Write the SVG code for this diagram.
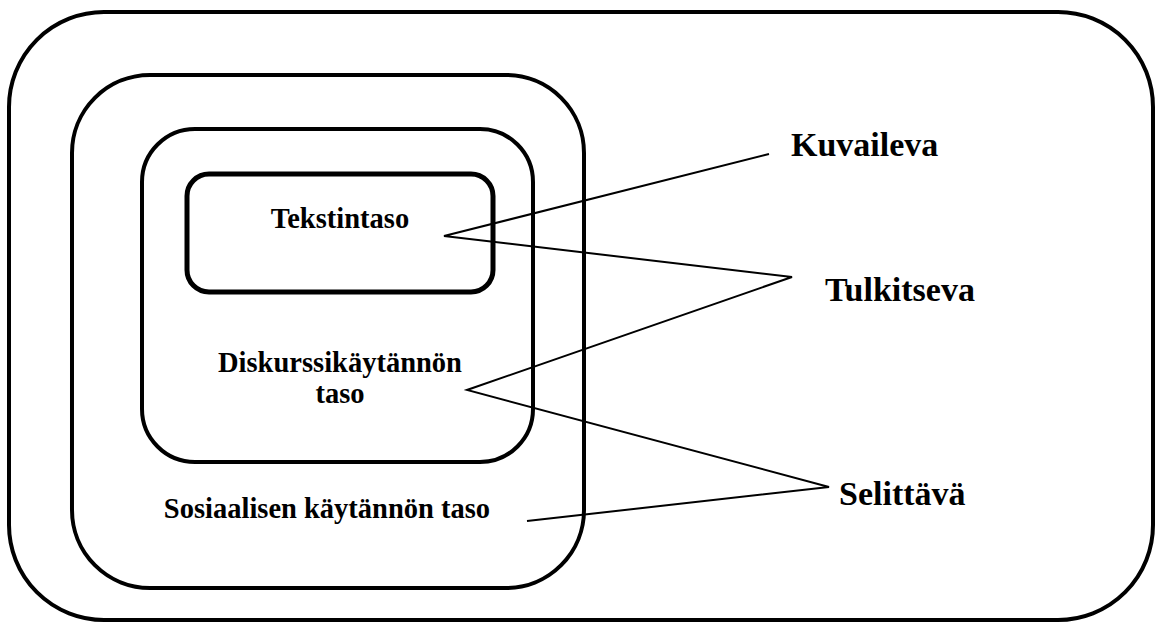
<svg xmlns="http://www.w3.org/2000/svg" width="1156" height="624" viewBox="0 0 1156 624">
<style>
.box{fill:none;stroke:#000;stroke-width:4}
.inner{stroke-width:5}
.lbl{font-family:"Liberation Serif","Times New Roman",serif;font-weight:bold;fill:#000}
.in{font-size:28.5px;text-anchor:middle}
.out{font-size:34px}
.con{fill:none;stroke:#000;stroke-width:2;stroke-linejoin:miter}
</style>
<rect width="1156" height="624" fill="#fff"/>
<g id="outer"><rect class="box" x="9" y="12" width="1144" height="608" rx="95" ry="95"/></g>
<g id="sosiaalinen"><rect class="box" x="72" y="75" width="512" height="513" rx="78" ry="78"/>
<text class="lbl in" x="327" y="518">Sosiaalisen käytännön taso</text></g>
<g id="diskurssi"><rect class="box" x="142" y="129" width="391" height="333" rx="53" ry="53"/>
<text class="lbl in" x="340" y="372">Diskurssikäytännön</text>
<text class="lbl in" x="340" y="403">taso</text></g>
<g id="teksti"><rect class="box inner" x="187" y="174" width="306" height="118" rx="22" ry="22"/>
<text class="lbl in" x="340" y="228">Tekstintaso</text></g>
<g id="kuvaileva"><text class="lbl out" x="791" y="156">Kuvaileva</text></g>
<g id="tulkitseva"><text class="lbl out" x="825" y="301">Tulkitseva</text></g>
<g id="selittava"><text class="lbl out" x="839" y="505">Selittävä</text></g>
<g id="connectors">
<polyline class="con" points="769,154 444,236 792,277 467,390 829,487 527,521"/>
</g>
</svg>
